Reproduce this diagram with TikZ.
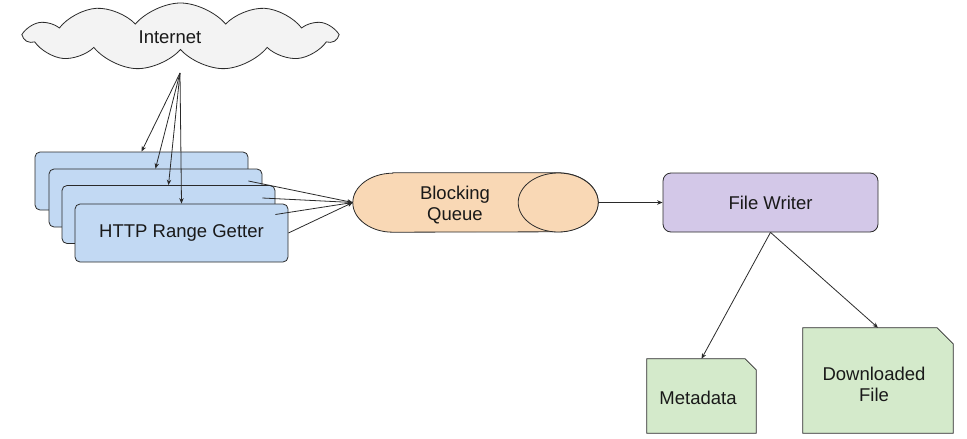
\documentclass[tikz,border=0pt]{standalone}
\usepackage{fontspec}
\setmainfont{Liberation Sans}
\usetikzlibrary{shapes.symbols,arrows.meta}
\definecolor{getterblue}{HTML}{C2D9F3}
\definecolor{queuefill}{HTML}{F9D8B5}
\definecolor{writerfill}{HTML}{D3C8E8}
\definecolor{docfill}{HTML}{D4EACB}
\definecolor{cloudfill}{HTML}{F3F3F3}
\definecolor{edge}{HTML}{2A2A2A}
\begin{document}
\begin{tikzpicture}[x=1pt,y=-1pt,
  every node/.style={font=\fontsize{18.5}{21}\selectfont, text=black!90},
  outline/.style={draw=edge, line width=0.8pt},
  getter/.style={outline, fill=getterblue, rounded corners=5pt, minimum width=213pt, minimum height=58pt, inner sep=0pt},
  writer/.style={outline, fill=writerfill, rounded corners=8pt, minimum width=215pt, minimum height=59pt, inner sep=0pt},
  docarea/.style={inner sep=0pt},
  conn/.style={draw=edge, line width=0.8pt, -{Stealth[length=5.5pt,width=4.5pt]}}
]
\useasboundingbox (0,0) rectangle (967,439);

% Internet cloud
\node[cloud, cloud puffs=11, cloud puff arc=100, cloud ignores aspect, minimum width=311pt, minimum height=67pt, outline, fill=cloudfill, inner sep=0pt] (cloud) at (180.5,36.5) {};
\node (inettext) at (170,37) {Internet};
\coordinate (src) at (180,73);

% HTTP range getters
\node[getter] (b1) at (141.5,181) {};
\node[getter] (b2) at (155.5,198) {};
\node[getter] (b3) at (168.5,214.5) {};
\node[getter] (b4) at (181.5,233) {HTTP Range Getter};

% Blocking queue
\node[minimum width=245pt, minimum height=59pt, inner sep=0pt] (q) at (475.5,202.5) {};
\path[outline, fill=queuefill] ([xshift=40pt]q.north west) -- ([xshift=-40pt]q.north east)
  arc[start angle=90, end angle=-90, x radius=40pt, y radius=29.5pt]
  -- ([xshift=40pt]q.south west)
  arc[start angle=270, end angle=90, x radius=40pt, y radius=29.5pt] -- cycle;
\path[outline, fill=queuefill] ([xshift=-40pt]q.east) ellipse [x radius=40pt, y radius=29.5pt];
\node[align=center] (qtext) at (455,205) {Blocking\\Queue};

% File writer
\node[writer] (fw) at (770.5,202.5) {File Writer};

% Documents
\node[docarea, minimum width=109pt, minimum height=74pt] (md) at (701.5,396) {};
\path[outline, fill=docfill] (md.south west) -- (md.north west) -- ([xshift=-11pt]md.north east)
  -- ([yshift=-11pt]md.north east) -- (md.south east) -- cycle;
\node (mdtext) at (698,398) {Metadata};
\node[docarea, minimum width=150pt, minimum height=105pt] (df) at (878,380.5) {};
\path[outline, fill=docfill] (df.south west) -- (df.north west) -- ([xshift=-16pt]df.north east)
  -- ([yshift=-16pt]df.north east) -- (df.south east) -- cycle;
\node[align=center] (dftext) at (874,384) {Downloaded\\File};

% Connectors
\draw[conn] (src) -- (b1.north);
\draw[conn] (src) -- (b2.north);
\draw[conn] (src) -- (b3.north);
\draw[conn] (src) -- (b4.north);
\draw[conn] (b1.east) -- (q.west);
\draw[conn] (b2.east) -- (q.west);
\draw[conn] (b3.east) -- (q.west);
\draw[conn] (b4.east) -- (q.west);
\draw[conn] (q.east) -- (fw.west);
\draw[conn] (fw.south) -- (md.north);
\draw[conn] (fw.south) -- (df.north);
\end{tikzpicture}
\end{document}
